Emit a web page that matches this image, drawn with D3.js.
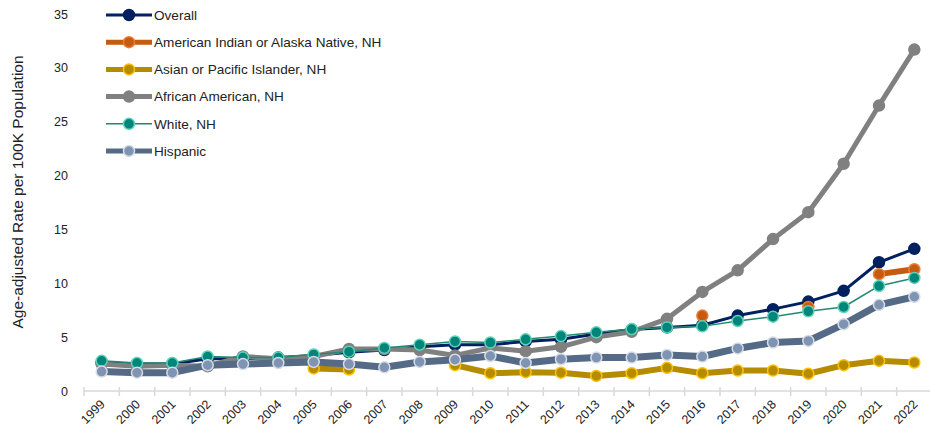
<!DOCTYPE html>
<html>
<head>
<meta charset="utf-8" />
<script src="https://cdn.jsdelivr.net/npm/d3@7"></script>
<style>
  body { margin: 0; background: #fff; }
  text { font-family: "Liberation Sans", Arial, sans-serif; }
</style>
</head>
<body>
<div id="chart"></div>
<script>
// years on the x axis
var years = [1999, 2000, 2001, 2002, 2003, 2004, 2005, 2006, 2007, 2008, 2009, 2010,
             2011, 2012, 2013, 2014, 2015, 2016, 2017, 2018, 2019, 2020, 2021, 2022];

// rates per 100K, null = not reported
var overall  = [2.6, 2.5, 2.5, 3.0, 3.0, 3.1, 3.3, 3.6, 3.8, 4.1, 4.3, 4.3,
                4.6, 4.8, 5.3, 5.7, 5.9, 6.1, 7.0, 7.6, 8.3, 9.3, 11.95, 13.2];
var aian     = [null, null, null, null, null, null, null, null, null, null, null, null,
                null, null, null, null, null, 7.0, null, null, 7.8, null, 10.85, 11.3];
var asian    = [null, null, null, null, null, null, 2.1, 2.0, null, null, 2.4, 1.65,
                1.75, 1.7, 1.4, 1.65, 2.15, 1.65, 1.9, 1.9, 1.6, 2.4, 2.8, 2.65];
var african  = [2.5, 2.3, 2.4, 2.3, 3.2, 3.0, 3.2, 3.9, 3.9, 3.8, 3.3, 4.0,
                3.7, 4.1, 5.0, 5.5, 6.7, 9.2, 11.2, 14.1, 16.6, 21.1, 26.5, 31.7];
var white    = [2.8, 2.6, 2.6, 3.2, 3.1, 3.1, 3.4, 3.65, 4.0, 4.3, 4.6, 4.5,
                4.8, 5.1, 5.45, 5.75, 5.9, 6.0, 6.5, 6.9, 7.4, 7.8, 9.75, 10.5];
var hispanic = [1.8, 1.7, 1.7, 2.4, 2.5, 2.6, 2.7, 2.5, 2.2, 2.7, 2.9, 3.25,
                2.6, 2.95, 3.1, 3.1, 3.35, 3.2, 3.95, 4.5, 4.65, 6.2, 8.0, 8.75];

var yTicks = [0, 5, 10, 15, 20, 25, 30, 35];

var series = [
  { name: "Overall", values: overall, line: "#002060", width: 3, fill: "#002060", stroke: "#002060", r: 5.5 },
  { name: "American Indian or Alaska Native, NH", values: aian, line: "#c55a11", width: 6, fill: "#c55a11", stroke: "#ed7d31", r: 5.5 },
  { name: "Asian or Pacific Islander, NH", values: asian, line: "#b58c00", width: 6, fill: "#b58c00", stroke: "#ffc000", r: 5.5 },
  { name: "African American, NH", values: african, line: "#808080", width: 5, fill: "#808080", stroke: "#808080", r: 5.5 },
  { name: "White, NH", values: white, line: "#1f8a70", width: 1.5, fill: "#00857a", stroke: "#5fd3b8", r: 5.5 },
  { name: "Hispanic", values: hispanic, line: "#546a87", width: 7, fill: "#7f93b3", stroke: "#d6dce5", r: 5.5 }
];

var width = 930, height = 436;

var svg = d3.select("#chart").append("svg")
  .attr("width", width)
  .attr("height", height);

var x = d3.scaleBand().domain(years).range([84, 932]);
var y = d3.scaleLinear().domain([0, 35]).range([391, 14]);

function cx(d) { return x(d) + x.bandwidth() / 2; }

// x axis line with cross ticks
var xAxis = svg.append("g").attr("transform", "translate(0,391)");
xAxis.append("line")
  .attr("x1", 84).attr("x2", 932)
  .attr("stroke", "#d9d9d9").attr("stroke-width", 1.5);
xAxis.selectAll(".tk")
  .data(years.concat(["end"]))
  .enter().append("line")
  .attr("x1", function (d, i) { return 84 + i * x.bandwidth(); })
  .attr("x2", function (d, i) { return 84 + i * x.bandwidth(); })
  .attr("y1", -4).attr("y2", 5)
  .attr("stroke", "#d9d9d9").attr("stroke-width", 1.5);

xAxis.selectAll(".lbl")
  .data(years)
  .enter().append("text")
  .attr("transform", function (d) { return "translate(" + (cx(d) + 4) + ",14) rotate(-45)"; })
  .attr("text-anchor", "end")
  .attr("font-size", 12.5)
  .attr("fill", "#222")
  .text(function (d) { return d; });

// y axis labels, no axis line
svg.append("g")
  .attr("transform", "translate(68,0)")
  .call(d3.axisLeft(y).tickValues(yTicks).tickSize(0).tickPadding(0))
  .call(function (g) { g.select(".domain").remove(); })
  .selectAll("text")
  .attr("font-family", "Liberation Sans, Arial, sans-serif")
  .attr("font-size", 12.5)
  .attr("fill", "#222");

svg.append("text")
  .attr("transform", "translate(23,192) rotate(-90)")
  .attr("text-anchor", "middle")
  .attr("font-size", 15.5)
  .attr("fill", "#222")
  .text("Age-adjusted Rate per 100K Population");

var line = d3.line()
  .defined(function (d) { return d.v != null; })
  .x(function (d) { return cx(d.year); })
  .y(function (d) { return y(d.v); });

series.forEach(function (s) {
  var pts = years.map(function (yr, i) { return { year: yr, v: s.values[i] }; });
  var g = svg.append("g");
  g.append("path")
    .attr("d", line(pts))
    .attr("fill", "none")
    .attr("stroke", s.line)
    .attr("stroke-width", s.width)
    .attr("stroke-linejoin", "round");
  g.selectAll("circle")
    .data(pts.filter(function (d) { return d.v != null; }))
    .enter().append("circle")
    .attr("cx", function (d) { return cx(d.year); })
    .attr("cy", function (d) { return y(d.v); })
    .attr("r", s.r)
    .attr("fill", s.fill)
    .attr("stroke", s.stroke)
    .attr("stroke-width", 1.5);
});

// legend
var legend = svg.append("g");
series.forEach(function (s, i) {
  var ly = 15 + i * 27.2;
  legend.append("line")
    .attr("x1", 106).attr("x2", 152)
    .attr("y1", ly).attr("y2", ly)
    .attr("stroke", s.line)
    .attr("stroke-width", Math.min(s.width, 5));
  legend.append("circle")
    .attr("cx", 129).attr("cy", ly).attr("r", s.r)
    .attr("fill", s.fill).attr("stroke", s.stroke).attr("stroke-width", 1.5);
  legend.append("text")
    .attr("x", 154).attr("y", ly)
    .attr("dy", "0.35em")
    .attr("font-size", 13.6)
    .attr("fill", "#222")
    .text(s.name);
});
</script>
</body>
</html>
